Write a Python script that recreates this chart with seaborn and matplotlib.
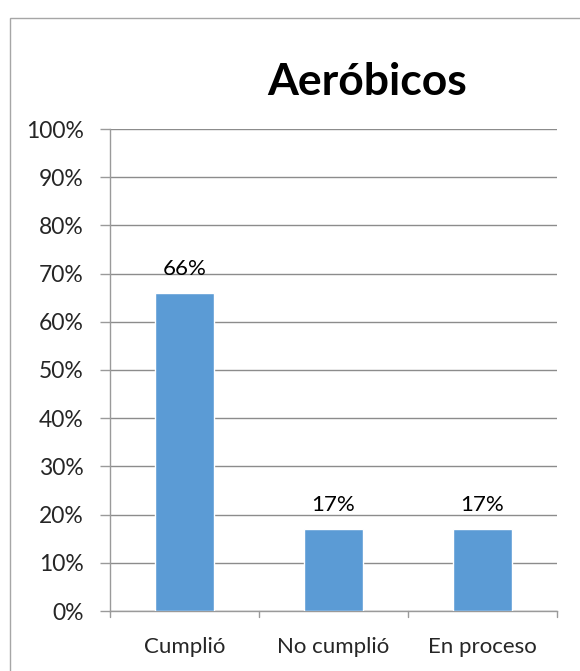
import matplotlib
matplotlib.use("Agg")
import matplotlib.pyplot as plt
import matplotlib.patches as mpatches
import seaborn as sns
import pandas as pd

categories = ["Cumplió", "No cumplió", "En proceso"]
values = [0.66, 0.17, 0.17]
value_labels = ["66%", "17%", "17%"]
yticks = [0.0, 0.1, 0.2, 0.3, 0.4, 0.5, 0.6, 0.7, 0.8, 0.9, 1.0]
ytick_labels = ["0%", "10%", "20%", "30%", "40%", "50%", "60%", "70%", "80%", "90%", "100%"]
title = "Aeróbicos"

sns.set_theme(style="white")
plt.rcParams['font.family'] = ['Lato', 'DejaVu Sans']

df = pd.DataFrame({"cat": categories, "val": values})

fig = plt.figure(figsize=(5.8, 6.71), dpi=100)
ax = fig.add_axes([110/580, 1 - 611/671, 447/580, 482/671])

sns.barplot(data=df, x="cat", y="val", color="#5B9BD5", width=0.4, ax=ax,
            saturation=1, zorder=3)

ax.set_ylim(0, 1.0)
ax.set_xlim(-0.5, 2.5)
ax.set_yticks(yticks)
ax.set_yticklabels(ytick_labels, fontsize=16.5)
ax.set_xlabel("")
ax.set_ylabel("")
ax.tick_params(axis="x", labelsize=16, length=0, pad=19)
ax.tick_params(axis="y", length=7, width=1, color="#9A9A9A", pad=12, left=True)
ax.yaxis.grid(True, color="#8C8C8C", linewidth=1, zorder=0)
ax.set_axisbelow(True)
for s in ["top", "right"]:
    ax.spines[s].set_visible(False)
ax.spines["left"].set_color("#9A9A9A")
ax.spines["bottom"].set_color("#9A9A9A")
ax.spines["left"].set_linewidth(1)
ax.spines["bottom"].set_linewidth(1)

# category boundary ticks on x-axis
for b in [-0.5, 0.5, 1.5, 2.5]:
    ax.plot([b, b], [0, -0.013], color="#9A9A9A", lw=1, clip_on=False,
            transform=ax.transData)

for i, (v, lab) in enumerate(zip(values, value_labels)):
    ax.annotate(lab, (i, v), xytext=(0, 10), textcoords="offset points",
                ha="center", va="bottom", fontsize=16, color="black")

fig.text(367/580, 1 - 82/671, title, ha="center", va="center",
         fontsize=32, fontweight="bold", color="black")

border = mpatches.Rectangle((9.5/580, -0.1), 1.2, 1 - 17.5/671 + 0.1,
                            transform=fig.transFigure, fill=False,
                            edgecolor="#A6A6A6", linewidth=1, clip_on=False)
fig.patches.append(border)

fig.savefig("out.png", dpi=100)
